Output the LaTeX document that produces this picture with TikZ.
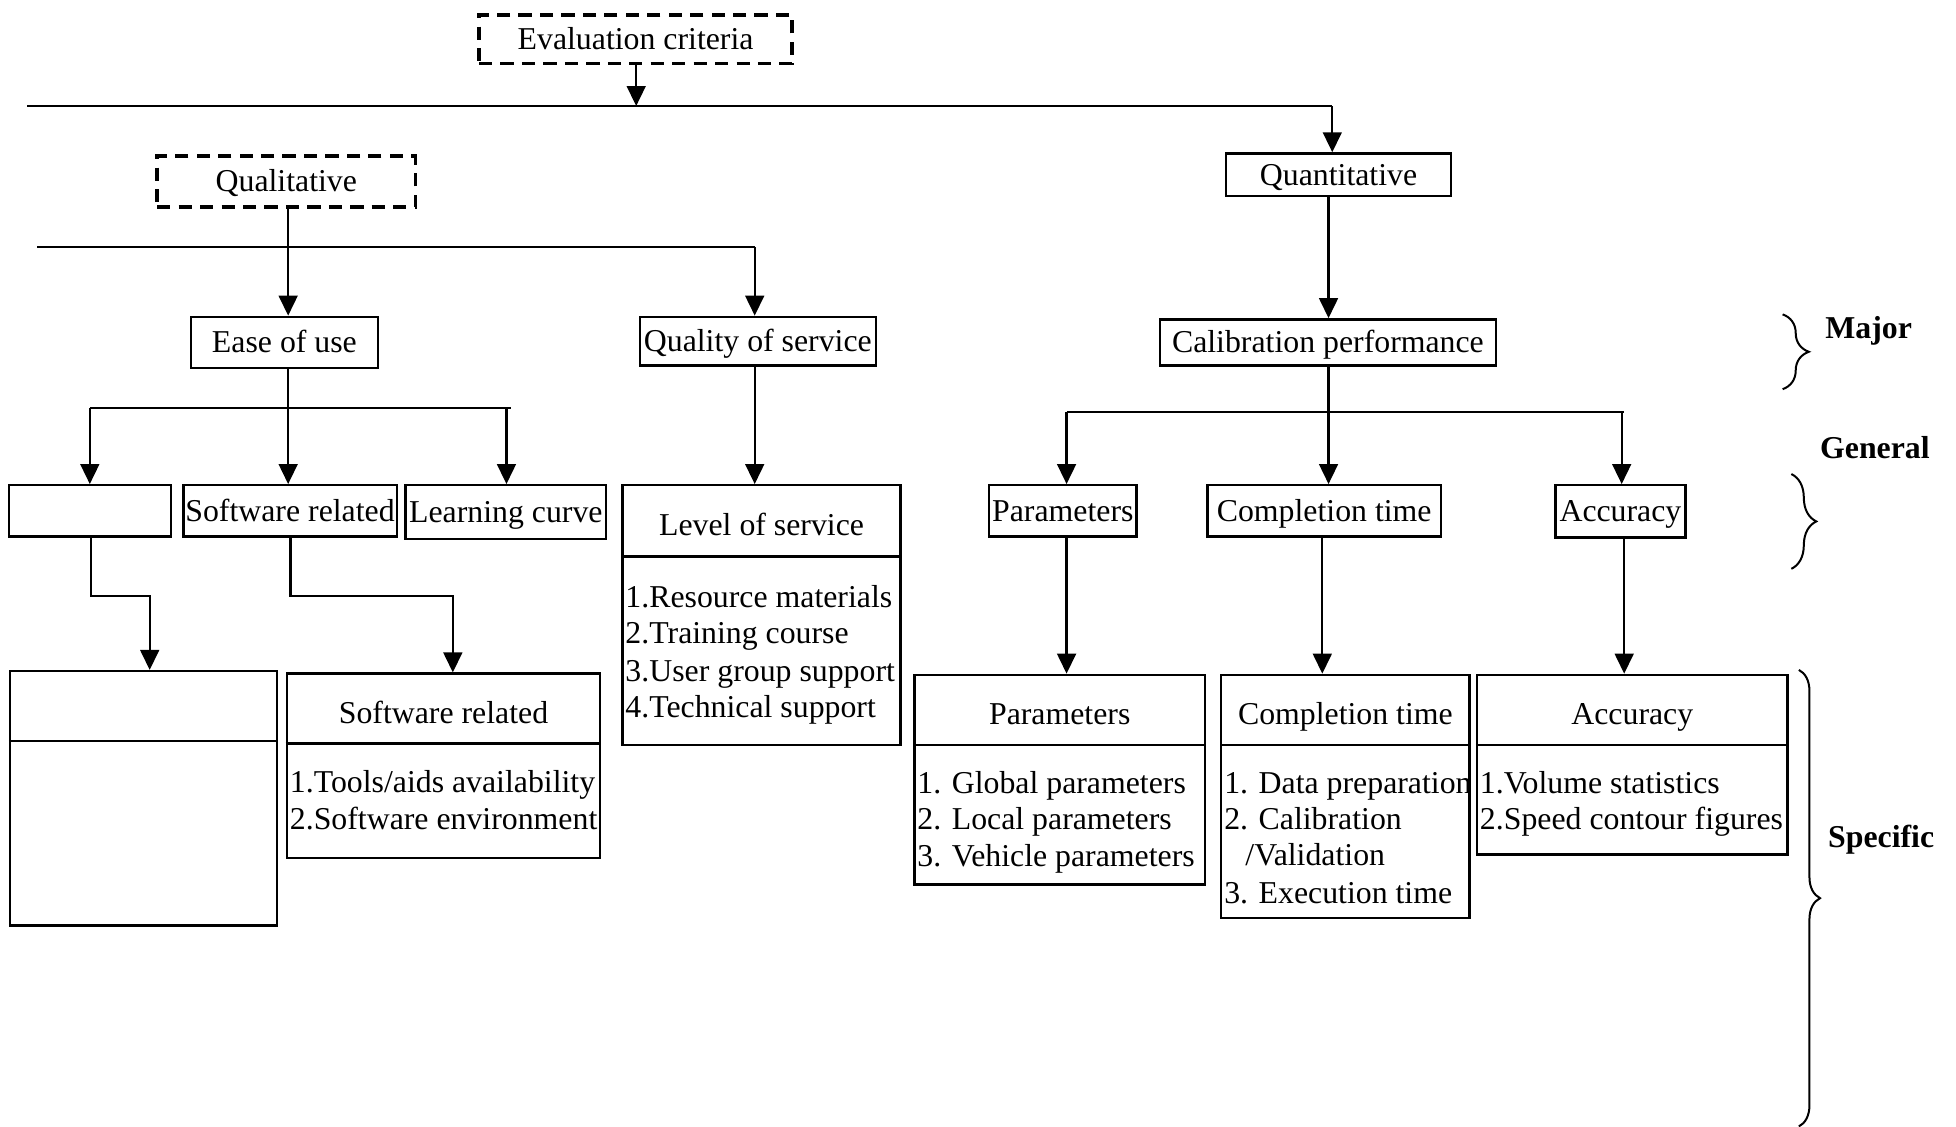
\documentclass[tikz,border=0pt]{standalone}
\usepackage{fontspec}
\setmainfont{Liberation Serif}
\usetikzlibrary{arrows.meta,decorations.pathreplacing,fit}
\newcommand\dfont{\fontsize{12.75pt}{14.75pt}\selectfont}
\begin{document}
\begin{tikzpicture}[x=0.5pt,y=-0.5pt,
  box/.style={draw, line width=0.95pt, inner sep=0pt},
  dbox/.style={box, line width=1.35pt, dash pattern=on 5.3pt off 3.3pt},
  ctext/.style={inner sep=0pt, text height=8.4pt, text depth=0pt, font=\dfont},
  arr/.style={-{Triangle[length=8pt,width=7.5pt]}, line width=0.95pt},
  ln/.style={line width=0.85pt},
  itm/.style={anchor=base west, inner sep=0pt, font=\dfont},
  ttl/.style={anchor=base, inner sep=0pt, font=\dfont},
  lbl/.style={inner sep=0pt, font=\dfont\bfseries},
  brc/.style={decorate, line width=0.8pt}]
\useasboundingbox (0,0) rectangle (1568,903);
% boxes
\node[dbox, fit={(384,12) (635,51)}] (eval) {};
\node[dbox, fit={(126,125) (333,166)}] (qual) {};
\node[box, fit={(983,123) (1163,157)}] (quant) {};
\node[box, fit={(153,254) (303,295)}] (ease) {};
\node[box, fit={(513,254) (702,293)}] (qos) {};
\node[box, fit={(930,256) (1199,293)}] (calib) {};
\node[box, fit={(7,389) (137,430)}] (e1) {};
\node[box, fit={(147,389) (318,430)}] (soft) {};
\node[box, fit={(325,389) (486,432)}] (learn) {};
\node[box, fit={(499,389) (722,597)}] (los) {};
\node[box, fit={(793,389) (911,430)}] (par) {};
\node[box, fit={(968,389) (1155,430)}] (comp) {};
\node[box, fit={(1247,389) (1351,431)}] (acc) {};
\node[box, fit={(8,538) (222,742)}] (e2) {};
\node[box, fit={(230,540) (481,688)}] (soft2) {};
\node[box, fit={(733,541) (966,709)}] (par2) {};
\node[box, fit={(979,541) (1178,736)}] (comp2) {};
\node[box, fit={(1184,541) (1433,685)}] (acc2) {};
% box texts
\node[ctext] (evalT) at (eval.center) {Evaluation criteria};
\node[ctext] (qualT) at (qual.center) {Qualitative};
\node[ctext] (quantT) at (quant.center) {Quantitative};
\node[ctext] (easeT) at (ease.center) {Ease of use};
\node[ctext] (qosT) at (qos.center) {Quality of service};
\node[ctext] (calibT) at (calib.center) {Calibration performance};
\node[ctext] (softT0) at (soft.center) {Software related};
\node[ctext] (learnT) at (learn.center) {Learning curve};
\node[ctext] (parT0) at (par.center) {Parameters};
\node[ctext] (compT0) at (comp.center) {Completion time};
\node[ctext] (accT0) at (acc.center) {Accuracy};
% dividers
\draw[line width=0.95pt] (los.west |- 0,446) -- (los.east |- 0,446);
\draw[line width=0.95pt] (e2.west |- 0,594) -- (e2.east |- 0,594);
\draw[line width=0.95pt] (soft2.west |- 0,596) -- (soft2.east |- 0,596);
\draw[line width=0.95pt] (par2.west |- 0,597) -- (par2.east |- 0,597);
\draw[line width=0.95pt] (comp2.west |- 0,597) -- (comp2.east |- 0,597);
\draw[line width=0.95pt] (acc2.west |- 0,597) -- (acc2.east |- 0,597);
% texts in split boxes
\node[ttl] (losT) at (610.5,429) {Level of service};
\node[itm] (los1) at (501,487) {1.Resource materials};
\node[itm] (los2) at (501,516) {2.Training course};
\node[itm] (los3) at (501,546) {3.User group support};
\node[itm] (los4) at (501,575) {4.Technical support};
\node[ttl] (softT) at (355.5,580) {Software related};
\node[itm] (soft1) at (232,635) {1.Tools/aids availability};
\node[itm] (soft2i) at (232,665) {2.Software environment};
\node[ttl] (parT) at (849.5,581) {Parameters};
\node[itm] (par1) at (735,636) {1. Global parameters};
\node[itm] (par2i) at (735,665) {2. Local parameters};
\node[itm] (par3) at (735,695) {3. Vehicle parameters};
\node[ttl] (compT) at (1078.5,581) {Completion time};
\node[itm] (comp1) at (981,636) {1. Data preparation};
\node[itm] (comp2i) at (981,665) {2. Calibration};
\node[itm] (comp2j) at (998,694) {/Validation};
\node[itm] (comp3) at (981,724) {3. Execution time};
\node[ttl] (accT) at (1308.5,581) {Accuracy};
\node[itm] (acc1) at (1186,636) {1.Volume statistics};
\node[itm] (acc2i) at (1186,665) {2.Speed contour figures};
% connectors, top
\coordinate (tL) at (22,85);
\coordinate (tM) at (510,85);
\coordinate (tR) at (1068,85);
\draw[arr] (eval.south -| tM) -- (tM);
\draw[ln] (tL) -- (tR);
\draw[arr] (tR) -- (tR |- quant.north);
% qualitative branch
\coordinate (qM) at (231,198);
\coordinate (qL) at (30,198);
\coordinate (qR) at (605,198);
\draw[ln] (qL) -- (qR);
\draw[arr] (qual.south -| qM) -- (qM |- ease.north);
\draw[arr] (qR) -- (qR |- qos.north);
% quantitative
\coordinate (cM) at (1065,330);
\draw[arr] (quant.south -| cM) -- (cM |- calib.north);
% ease of use children
\coordinate (eM) at (231,327);
\coordinate (eL) at (72,327);
\coordinate (eR) at (410,327);
\coordinate (eR2) at (406,327);
\draw[ln] (eL) -- (eR);
\draw[arr] (ease.south -| eM) -- (eM |- soft.north);
\draw[arr] (eL) -- (eL |- e1.north);
\draw[arr] (eR2) -- (eR2 |- learn.north);
% quality of service
\draw[arr] (qos.south -| qR) -- (qR |- los.north);
% calibration children
\coordinate (cL) at (855,330);
\coordinate (cR) at (1302,330);
\coordinate (cR2) at (1300,330);
\draw[ln] (cL) -- (cR);
\draw[arr] (calib.south -| cM) -- (cM |- comp.north);
\draw[arr] (cL) -- (cL |- par.north);
\draw[arr] (cR2) -- (cR2 |- acc.north);
% second level down
\coordinate (k1) at (73,478);
\coordinate (k2) at (120,478);
\draw[arr] (e1.south -| k1) -- (k1) -- (k2) -- (k2 |- e2.north);
\coordinate (s1) at (233,478);
\coordinate (s2) at (363,478);
\draw[arr] (soft.south -| s1) -- (s1) -- (s2) -- (s2 |- soft2.north);
\coordinate (p1) at (855,480);
\coordinate (p2) at (1060,480);
\coordinate (p3) at (1302,480);
\draw[arr] (par.south -| p1) -- (p1 |- par2.north);
\draw[arr] (comp.south -| p2) -- (p2 |- comp2.north);
\draw[arr] (acc.south -| p3) -- (p3 |- acc2.north);
% braces and level labels
\coordinate (b1t) at (1429,252);
\coordinate (b1b) at (1429,312);
\coordinate (b2t) at (1436,380);
\coordinate (b2b) at (1436,456);
\coordinate (b3t) at (1442,537);
\coordinate (b3b) at (1442,903);
\draw[brc, decoration={brace, amplitude=10.5pt}] (b1t) -- (b1b);
\draw[brc, decoration={brace, amplitude=10pt}] (b2t) -- (b2b);
\draw[brc, decoration={brace, amplitude=8.5pt}] (b3t) -- (b3b);
\node[lbl] (maj) at (1498,265) {Major};
\node[lbl] (gen) at (1503,359) {General};
\node[lbl] (spec) at (1508,673) {Specific};
\end{tikzpicture}
\end{document}
